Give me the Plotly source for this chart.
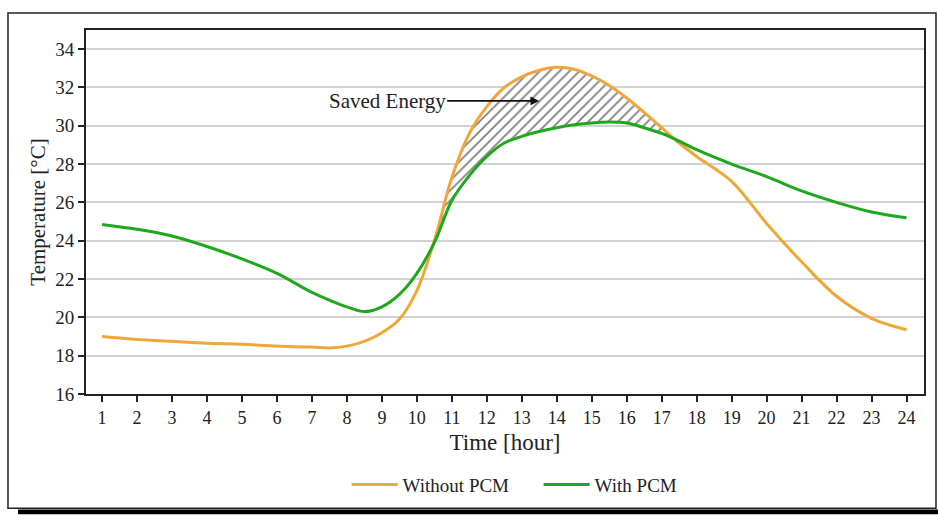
import plotly.graph_objects as go

hours = [1, 2, 3, 4, 5, 6, 7, 7.5, 8, 8.5, 9, 9.5, 10, 10.5, 11, 11.5, 12, 12.5,
         13, 13.5, 14, 14.5, 15, 15.5, 16, 16.5, 17, 17.5, 18, 19, 20, 21, 22, 23, 24]
without_pcm = [19.0, 18.85, 18.75, 18.65, 18.6, 18.5, 18.45, 18.4, 18.5, 18.75, 19.2, 19.9,
               21.4, 24.0, 27.3, 29.6, 31.0, 32.0, 32.55, 32.9, 33.05, 32.95, 32.6, 32.1,
               31.45, 30.7, 29.9, 29.1, 28.4, 27.1, 24.9, 22.9, 21.1, 19.95, 19.35]
with_pcm = [24.85, 24.6, 24.25, 23.7, 23.05, 22.3, 21.3, 20.9, 20.55, 20.3, 20.55, 21.2,
            22.3, 23.9, 26.1, 27.4, 28.4, 29.1, 29.45, 29.7, 29.9, 30.05, 30.15, 30.2,
            30.15, 29.9, 29.6, 29.2, 28.75, 28.0, 27.35, 26.6, 26.0, 25.5, 25.2]

# Hatched "saved energy" region bounds
hatch_start = (10.62, 24.7)
hatch_end = (17.3, 29.4)

x_ticks = list(range(1, 25))
y_ticks = list(range(16, 35, 2))

FONT = "Liberation Serif, Times New Roman, serif"
ORANGE = "#EFA73A"
GREEN = "#1EA81E"
TXT = "#222222"

sel = [i for i, h in enumerate(hours) if hatch_start[0] < h < hatch_end[0]]
hx = [hatch_start[0]] + [hours[i] for i in sel] + [hatch_end[0]]
h_low = [hatch_start[1]] + [with_pcm[i] for i in sel] + [hatch_end[1]]
h_up = [hatch_start[1]] + [without_pcm[i] for i in sel] + [hatch_end[1]]

fig = go.Figure()
fig.add_trace(go.Scatter(x=hx, y=h_low, mode="lines", line=dict(width=0, shape="spline"),
                         showlegend=False, hoverinfo="skip"))
fig.add_trace(go.Scatter(x=hx, y=h_up, mode="lines", line=dict(width=0, shape="spline"),
                         fill="tonexty", fillcolor="rgba(255,255,255,0)",
                         fillpattern=dict(shape="/", fgcolor="#000000", bgcolor="white",
                                          size=7, solidity=0.25),
                         showlegend=False, hoverinfo="skip"))
fig.add_trace(go.Scatter(x=hours, y=without_pcm, mode="lines", name="Without PCM",
                         line=dict(color=ORANGE, width=3, shape="spline")))
fig.add_trace(go.Scatter(x=hours, y=with_pcm, mode="lines", name="With PCM",
                         line=dict(color=GREEN, width=3, shape="spline")))

fig.add_annotation(x=13.5, y=31.3, ax=9.15, ay=31.3, axref="x", ayref="y",
                   text="Saved Energy", showarrow=True, arrowhead=2, arrowsize=1.1,
                   arrowwidth=1.6, arrowcolor="#111111",
                   font=dict(family=FONT, size=21, color=TXT))

# outer frame and shadow
fig.add_shape(type="rect", xref="paper", yref="paper", x0=-0.0931, x1=1.0143,
              y0=-0.3142, y1=1.0464, line=dict(color="#222222", width=1.5), layer="below")
fig.add_shape(type="rect", xref="paper", yref="paper", x0=-0.0811, x1=1.0167,
              y0=-0.3306, y1=-0.3170, line=dict(width=0), fillcolor="black")

fig.update_layout(
    width=938, height=516,
    margin=dict(l=86, r=14, t=30, b=120),
    paper_bgcolor="white", plot_bgcolor="white",
    font=dict(family=FONT, size=18, color=TXT),
    showlegend=True,
    legend=dict(orientation="h", x=0.311, xanchor="left", y=-0.249, yanchor="middle",
                traceorder="normal", entrywidth=131, entrywidthmode="pixels",
                font=dict(family=FONT, size=19, color=TXT), itemwidth=46),
    xaxis=dict(range=[0.54, 24.5], tickvals=x_ticks, ticks="outside", ticklen=6,
               tickwidth=1.5, tickcolor=TXT, showline=True, linecolor=TXT,
               linewidth=2, mirror=True, showgrid=False, zeroline=False,
               title=dict(text="Time [hour]", font=dict(family=FONT, size=23), standoff=7),
               tickfont=dict(family=FONT, size=18)),
    yaxis=dict(range=[16, 35], tickvals=y_ticks, ticks="outside", ticklen=6,
               tickwidth=1.5, tickcolor=TXT, showline=True, linecolor=TXT,
               linewidth=2, mirror=True, showgrid=True, gridcolor="#d2d2d2", gridwidth=1.5,
               zeroline=False,
               title=dict(text="Temperature [°C]", font=dict(family=FONT, size=21), standoff=4),
               tickfont=dict(family=FONT, size=19)),
)

fig.write_html("out.html", config={"displayModeBar": False},
               post_script="document.body.style.margin='0';")
